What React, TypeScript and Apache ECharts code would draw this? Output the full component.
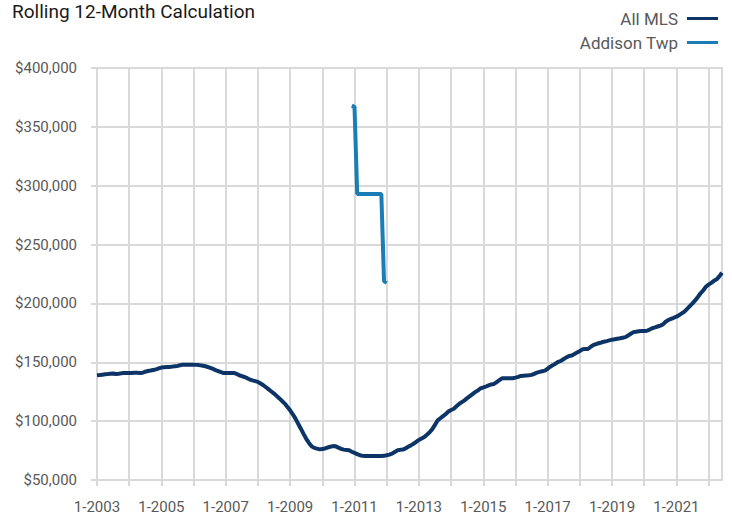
import React, { useEffect, useRef } from "react";
import * as echarts from "echarts";

// Monthly categories 1-2003 .. 6-2022
const startYear = 2003;
const monthCount = 234;
const categories: string[] = [];
for (let i = 0; i < monthCount; i++) {
  const y = startYear + Math.floor(i / 12);
  const m = (i % 12) + 1;
  categories.push(`${m}-${y}`);
}

// All MLS rolling 12-month values (thousands of $), read month by month
const allMlsK: number[] = [
  // 2003
  139.0, 139.2, 139.5, 139.8, 140.0, 140.3, 140.5, 140.0, 140.2, 140.6, 140.8, 141.0,
  // 2004
  141.0, 141.0, 141.1, 141.1, 141.0, 141.1, 142.0, 142.6, 143.0, 143.5, 144.0, 144.8,
  // 2005
  145.5, 145.7, 145.9, 146.0, 146.3, 146.6, 146.9, 147.5, 148.0, 148.0, 148.0, 148.0,
  // 2006
  148.0, 147.8, 147.6, 147.3, 146.9, 146.2, 145.4, 144.6, 143.6, 142.6, 141.8, 141.0,
  // 2007
  141.0, 141.0, 141.0, 141.0, 140.2, 139.0, 138.3, 137.5, 136.5, 135.3, 134.6, 134.0,
  // 2008
  133.3, 132.0, 130.5, 128.8, 127.0, 125.2, 123.4, 121.4, 119.3, 117.1, 114.9, 112.1,
  // 2009
  109.2, 105.8, 102.1, 97.8, 93.6, 89.2, 85.0, 81.5, 78.6, 77.3, 76.6, 76.0,
  // 2010
  76.4, 76.8, 77.6, 78.3, 78.8, 78.6, 77.5, 76.5, 75.8, 75.5, 75.2, 74.0,
  // 2011
  73.0, 72.0, 71.0, 70.5, 70.3, 70.3, 70.3, 70.3, 70.3, 70.3, 70.4, 70.5,
  // 2012
  71.0, 71.6, 72.4, 73.8, 75.2, 75.6, 75.8, 76.8, 78.2, 79.4, 80.8, 82.4,
  // 2013
  84.0, 85.2, 86.5, 88.5, 90.5, 93.2, 96.8, 100.7, 102.5, 104.3, 106.0, 108.2,
  // 2014
  109.5, 110.5, 112.6, 114.6, 116.2, 117.7, 119.5, 121.2, 123.0, 124.8, 126.0, 127.9,
  // 2015
  128.6, 129.4, 130.4, 131.2, 131.6, 133.2, 134.8, 136.4, 136.4, 136.4, 136.4, 136.5,
  // 2016
  137.0, 137.6, 138.4, 138.6, 138.8, 139.0, 139.3, 140.2, 141.2, 141.8, 142.4, 142.9,
  // 2017
  144.5, 146.3, 147.6, 149.0, 150.4, 151.3, 152.8, 154.2, 155.3, 155.8, 157.0, 158.4,
  // 2018
  159.6, 161.0, 161.2, 161.3, 163.0, 164.6, 165.5, 166.2, 166.8, 167.5, 168.0, 168.6,
  // 2019
  169.2, 169.6, 170.0, 170.4, 170.9, 171.4, 172.8, 174.2, 175.6, 176.0, 176.3, 176.5,
  // 2020
  176.6, 176.8, 177.8, 178.9, 179.6, 180.4, 181.2, 182.2, 184.5, 185.9, 186.9, 187.8,
  // 2021
  188.8, 190.0, 191.5, 193.0, 195.3, 197.7, 200.1, 202.5, 205.5, 208.6, 211.0, 214.2,
  // 2022
  216.0, 217.5, 219.2, 220.5, 223.0, 226.1,
];

// Addison Twp: only reported 12-2010 .. 1-2012 (index 95..108)
const addisonStartIndex = 95;
const addisonK: number[] = [368.0, 367.0, 293.0, 293.0, 293.0, 293.0, 293.0, 293.0, 293.0, 293.0, 293.0, 293.0, 219.0, 217.5];

const yTicks = { min: 50000, max: 400000, interval: 50000 };

const allMls = allMlsK.map((v) => Math.round(v * 1000));
const addison: (number | null)[] = categories.map((_, i) => {
  const k = i - addisonStartIndex;
  return k >= 0 && k < addisonK.length ? Math.round(addisonK[k] * 1000) : null;
});

const FONT = "Roboto, 'Liberation Sans', Arial, sans-serif";
const GRID = "#d9d9d9";

export default function App() {
  const ref = useRef<HTMLDivElement>(null);
  useEffect(() => {
    if (!ref.current) return;
    const chart = echarts.init(ref.current, undefined, { renderer: "svg" });
    chart.setOption({
      animation: false,
      backgroundColor: "#ffffff",
      title: {
        text: "Rolling 12-Month Calculation",
        left: 12,
        top: 2,
        padding: 0,
        textStyle: { fontFamily: FONT, fontSize: 19, fontWeight: "normal", color: "#1a1a1a" },
      },
      legend: {
        orient: "vertical",
        right: 9,
        top: 5,
        align: "right",
        itemWidth: 31,
        itemHeight: 3,
        itemGap: 7,
        icon: "rect",
        textStyle: { fontFamily: FONT, fontSize: 17, color: "#595959", padding: [0, 4, 0, 0] },
        data: ["All MLS", "Addison Twp"],
      },
      grid: {
        left: 97,
        right: 10,
        top: 68,
        bottom: 35,
        show: true,
        borderColor: GRID,
        borderWidth: 2,
      },
      xAxis: {
        type: "category",
        data: categories,
        boundaryGap: false,
        axisLine: { lineStyle: { color: GRID, width: 2 } },
        axisTick: { show: true, interval: 11, length: 6, lineStyle: { color: GRID, width: 2 } },
        splitLine: { show: true, interval: 11, lineStyle: { color: GRID, width: 2 } },
        axisLabel: {
          interval: 23,
          margin: 19,
          fontFamily: FONT,
          fontSize: 15,
          color: "#595959",
        },
      },
      yAxis: {
        type: "value",
        min: yTicks.min,
        max: yTicks.max,
        interval: yTicks.interval,
        axisLine: { show: true, lineStyle: { color: GRID, width: 2 } },
        axisTick: { show: true, length: 6, lineStyle: { color: GRID, width: 2 } },
        splitLine: { show: true, lineStyle: { color: GRID, width: 2 } },
        axisLabel: {
          margin: 20,
          fontFamily: FONT,
          fontSize: 15,
          color: "#595959",
          formatter: (v: number) => "$" + v.toLocaleString("en-US"),
        },
      },
      series: [
        {
          name: "All MLS",
          type: "line",
          data: allMls,
          showSymbol: false,
          symbol: "none",
          color: "#0d3466",
          lineStyle: { width: 4, color: "#0d3466" },
          z: 3,
        },
        {
          name: "Addison Twp",
          type: "line",
          data: addison,
          showSymbol: false,
          symbol: "none",
          connectNulls: false,
          color: "#1b7db5",
          lineStyle: { width: 4, color: "#1b7db5" },
          z: 4,
        },
      ],
    });
    return () => chart.dispose();
  }, []);
  return (
    <div
      ref={ref}
      style={{ position: "absolute", left: 0, top: 0, width: 732, height: 515 }}
    />
  );
}
